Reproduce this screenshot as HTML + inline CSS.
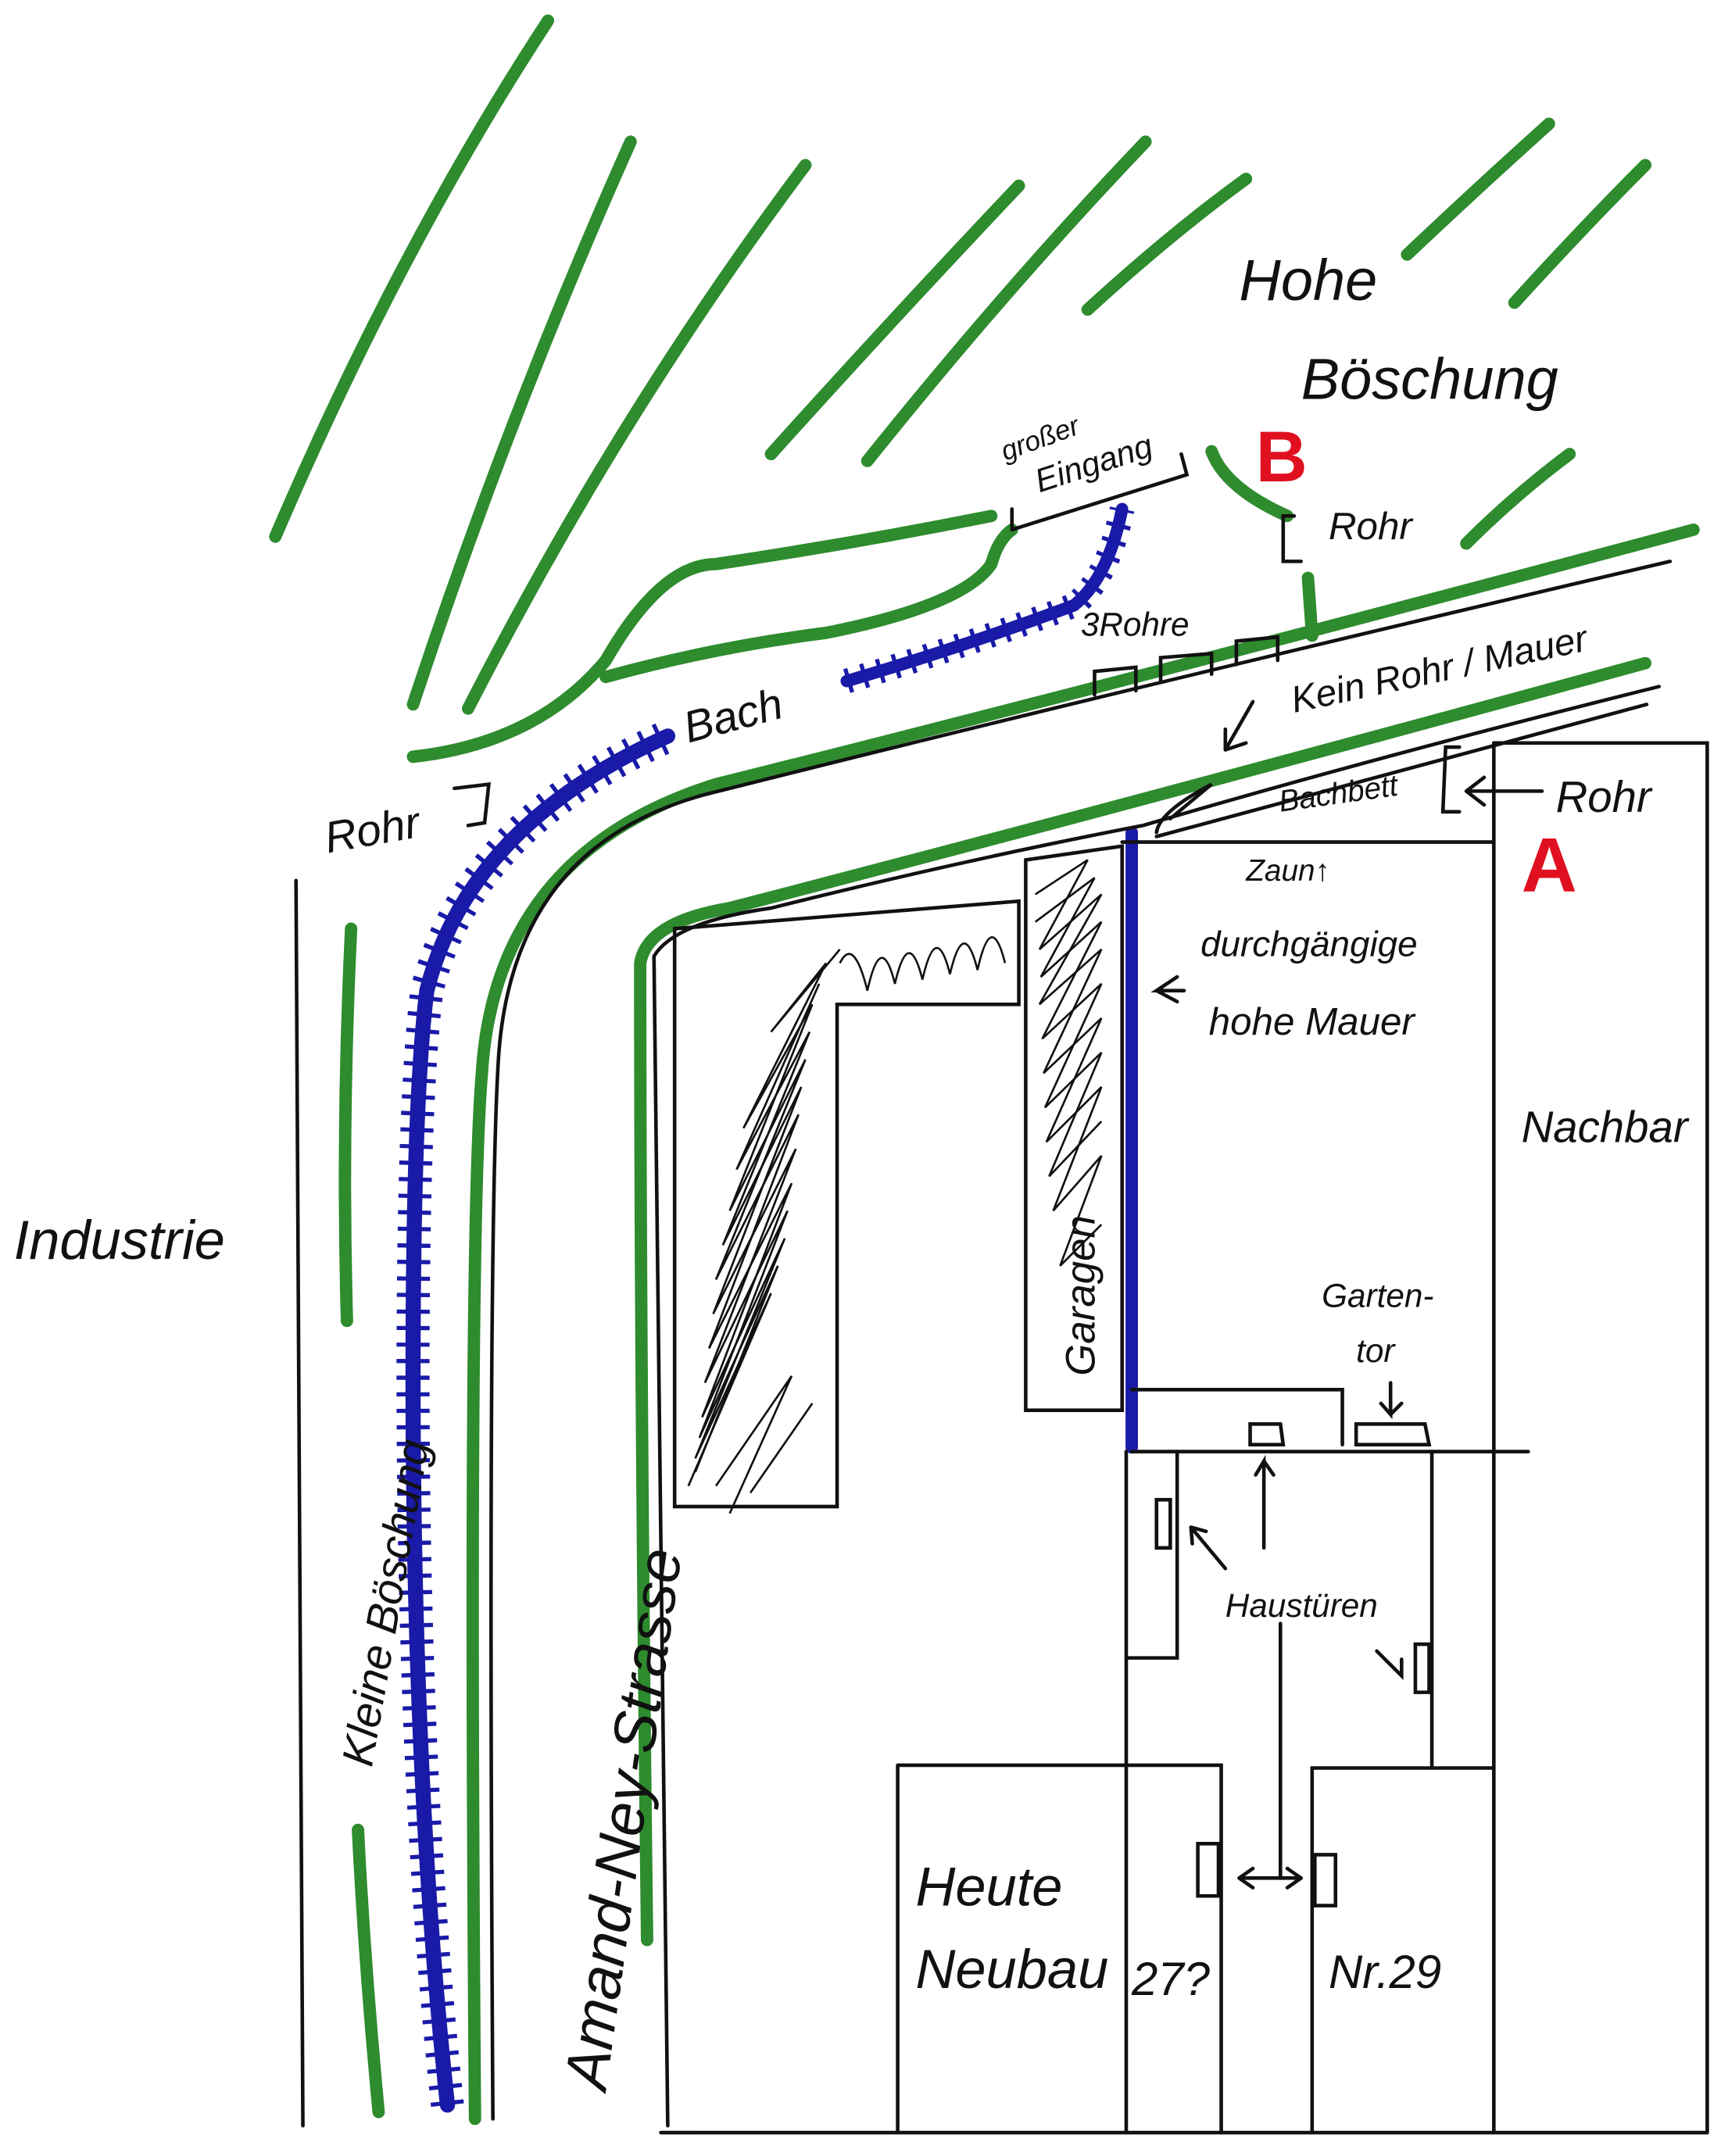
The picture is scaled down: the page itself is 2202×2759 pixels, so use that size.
<!DOCTYPE html>
<html><head><meta charset="utf-8"><style>
html,body{margin:0;padding:0;background:#fff;}
svg{display:block}
text{font-family:"Liberation Sans",sans-serif;fill:#111;font-style:italic}
</style></head><body>
<svg width="2202" height="2759" viewBox="0 0 1250 1567" preserveAspectRatio="none" xmlns="http://www.w3.org/2000/svg">
<rect width="1250" height="1567" fill="#fff"/>
<g stroke="#2e8b2e" stroke-width="9" stroke-linecap="round" fill="none">
<path d="M200 390 Q290 180 398 15"/>
<path d="M300 512 Q370 300 458 103"/>
<path d="M340 515 Q450 300 585 120"/>
<path d="M560 330 Q650 230 740 135"/>
<path d="M630 335 Q730 210 832 103"/>
<path d="M790 225 Q850 170 905 130"/>
<path d="M1022 185 Q1075 135 1125 90"/>
<path d="M1100 220 Q1150 165 1195 120"/>
<path d="M1065 395 Q1100 360 1140 330"/>
<path d="M880 328 Q890 355 935 375"/>
<path d="M950 420 L953 462"/>
<path d="M300 550 Q390 540 440 480 Q480 410 520 410 Q620 395 720 375"/>
<path d="M440 492 Q520 470 600 460 Q700 440 720 410 Q725 392 735 385"/>
<path d="M345 1540 Q340 900 350 780 Q360 620 520 570 Q800 500 1230 385"/>
<path d="M470 1410 Q465 1000 465 700 Q470 670 530 660 Q800 590 1195 482"/>
<path d="M255 675 Q248 820 252 960"/>
<path d="M260 1330 Q265 1430 275 1535"/>
</g>
<g stroke="#1a1aa8" stroke-linecap="round" fill="none">
<path d="M325 1530 Q300 1300 300 1000 Q300 800 310 720 Q340 600 485 535" stroke-width="11"/>
<path d="M325 1530 Q300 1300 300 1000 Q300 800 310 720 Q340 600 485 535" stroke-width="24" stroke-dasharray="3 9" stroke-linecap="butt"/>
<path d="M615 495 Q700 470 780 440 Q805 420 815 370" stroke-width="9"/>
<path d="M615 495 Q700 470 780 440 Q805 420 815 370" stroke-width="18" stroke-dasharray="3 9" stroke-linecap="butt"/>
<path d="M822 605 L822 1052" stroke-width="9"/>
</g>
<g stroke="#111" stroke-width="2.6" fill="none" stroke-linecap="round">
<path d="M358 1540 Q354 900 362 770 Q372 610 522 575 Q800 505 1213 408"/>
<path d="M485 1545 L475 695 Q490 670 560 660 Q700 625 830 600 Q1000 550 1205 499"/>
<path d="M840 608 Q1000 565 1196 512"/>
<path d="M215 640 L220 1545"/>
<path d="M490 675 L740 655 L740 730 L608 730 L608 1095 L490 1095 Z"/>
<path d="M745 625 L815 615 L815 1025 L745 1025 Z"/>
<path d="M815 612 L1085 612"/>
<path d="M1085 540 L1240 540 L1240 1550"/>
<path d="M1085 540 L1085 1550"/>
<path d="M822 1010 L975 1010 L975 1050"/>
<path d="M822 1055 L1110 1055"/>
<path d="M818 1055 L818 1550"/>
<path d="M855 1055 L855 1205 L818 1205"/>
<path d="M1040 1055 L1040 1285"/>
<path d="M652 1283 L887 1283 L887 1550 M652 1283 L652 1550"/>
<path d="M953 1550 L953 1285 L1085 1285"/>
<path d="M480 1550 L1240 1550"/>
<path d="M735 385 L735 370 M735 385 L862 345 L858 330"/>
<path d="M795 505 L795 488 L825 485 L825 502 M843 495 L843 478 L880 475 L880 490 M898 483 L898 466 L928 463 L928 480"/>
<path d="M940 375 L932 375 L932 408 L945 408"/>
<path d="M330 573 L355 570 L352 598 L340 600"/>
<path d="M1060 543 L1050 543 L1048 590 L1060 590"/>
<path d="M840 605 Q842 590 880 570 L850 595"/>
<path d="M910 510 L890 545 M890 545 L890 530 M890 545 L905 540"/>
<path d="M1120 575 L1065 575 M1065 575 L1078 565 M1065 575 L1078 585"/>
<path d="M860 720 L840 720 L855 710 M840 720 L855 728"/>
<path d="M908 1035 L930 1035 L932 1050 L908 1050 Z M985 1035 L1035 1035 L1038 1050 L985 1050 Z"/>
<path d="M1010 1005 L1010 1028 L1003 1020 M1010 1028 L1018 1020"/>
<path d="M840 1090 L850 1090 L850 1125 L840 1125 Z M1028 1195 L1038 1195 L1038 1230 L1028 1230 Z"/>
<path d="M918 1125 L918 1062 L912 1072 M918 1062 L925 1072"/>
<path d="M890 1140 L865 1110 M865 1110 L866 1122 M865 1110 L876 1113"/>
<path d="M1000 1200 L1018 1218 L1018 1206"/>
<path d="M930 1180 L930 1365"/>
<path d="M870 1340 L885 1340 L885 1378 L870 1378 Z M955 1348 L970 1348 L970 1385 L955 1385 Z"/>
<path d="M900 1365 L945 1365 M900 1365 L910 1358 M900 1365 L910 1372 M945 1365 L935 1358 M945 1365 L935 1372"/>
</g>
<g stroke="#111" stroke-width="1.5" fill="none">
<path d="M500 1080 L560 940 L505 1060 L570 900 L510 1030 L575 860 L515 980 L580 810 L520 930 L585 770 L530 880 L590 730 L540 820 L600 700 L560 750 L610 690"/>
<path d="M505 1070 L565 920 L508 1045 L572 880 L512 1005 L578 835 L518 955 L582 790 L525 905 L588 750 L535 850 L595 715"/>
<path d="M610 700 Q620 680 630 720 Q640 675 650 715 Q660 672 670 712 Q680 668 690 708 Q700 665 710 705 Q720 660 730 700"/>
<path d="M520 1080 L575 1000 L530 1100 M545 1085 L590 1020"/>
<path d="M752 650 L790 625 L755 690 L800 650 L755 730 L800 690 L758 780 L800 740 L760 830 L800 790 L765 880 L800 840 L770 920 L800 890"/>
<path d="M752 670 L795 638 L756 710 L800 670 L757 755 L800 715 L759 805 L800 765 L762 855 L800 815"/>
</g>
<g font-family="Liberation Sans" font-weight="bold">
<text x="912" y="350" font-size="52" style="fill:#e01020;font-style:normal">B</text>
<text x="1105" y="648" font-size="56" style="fill:#e01020;font-style:normal">A</text>
</g>
<text x="900" y="218" font-size="42">Hohe</text>
<text x="945" y="290" font-size="42">Böschung</text>
<text x="730" y="335" font-size="20" transform="rotate(-20 730 335)">großer</text>
<text x="755" y="358" font-size="24" transform="rotate(-18 755 358)">Eingang</text>
<text x="965" y="392" font-size="28">Rohr</text>
<text x="785" y="462" font-size="24">3Rohre</text>
<text x="940" y="518" font-size="27" transform="rotate(-12 940 518)">Kein Rohr / Mauer</text>
<text x="500" y="540" font-size="32" transform="rotate(-15 500 540)">Bach</text>
<text x="238" y="620" font-size="32" transform="rotate(-10 238 620)">Rohr</text>
<text x="930" y="590" font-size="22" transform="rotate(-8 930 590)">Bachbett</text>
<text x="1130" y="590" font-size="32">Rohr</text>
<text x="905" y="640" font-size="22">Zaun↑</text>
<text x="872" y="695" font-size="26">durchgängige</text>
<text x="878" y="752" font-size="28">hohe Mauer</text>
<text x="1105" y="830" font-size="32">Nachbar</text>
<text x="10" y="915" font-size="40">Industrie</text>
<text x="960" y="950" font-size="24">Garten-</text>
<text x="985" y="990" font-size="24">tor</text>
<text x="795" y="1000" font-size="30" transform="rotate(-90 795 1000)">Garagen</text>
<text x="890" y="1175" font-size="24">Haustüren</text>
<text x="270" y="1285" font-size="32" transform="rotate(-80 270 1285)">Kleine Böschung</text>
<text x="440" y="1520" font-size="44" transform="rotate(-82 440 1520)">Amand-Ney-Strasse</text>
<text x="665" y="1385" font-size="40">Heute</text>
<text x="665" y="1445" font-size="40">Neubau</text>
<text x="822" y="1450" font-size="34">27?</text>
<text x="965" y="1445" font-size="34">Nr.29</text>
</svg>
</body></html>
